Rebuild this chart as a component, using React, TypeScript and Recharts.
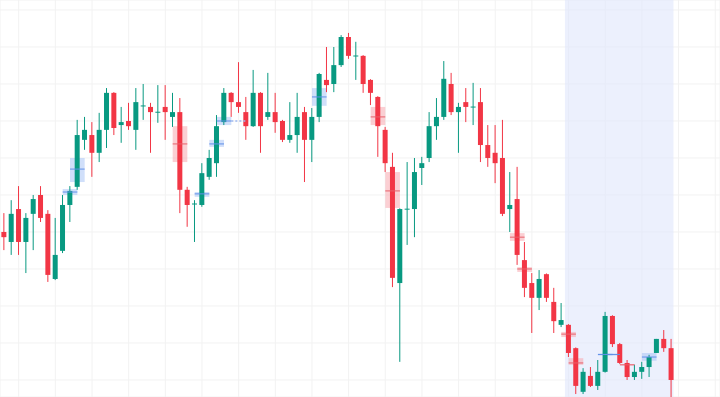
import { ComposedChart, Bar, XAxis, YAxis, CartesianGrid, ReferenceArea, ReferenceLine } from 'recharts'

const opens = [
  140.0, 137.3, 146.2, 137.3, 144.9, 150.0, 144.9, 127.3, 134.9, 147.3,
  152.2, 164.9, 166.2, 161.4, 167.6, 177.6, 168.9, 170.0, 167.6, 174.1,
  173.8, 172.4, 173.8, 171.1, 172.4, 151.4, 147.6, 147.3, 154.9, 158.6,
  169.7, 177.6, 175.1, 172.4, 168.6, 177.6, 171.1, 172.4, 170.0, 164.9,
  166.2, 172.4, 164.9, 171.1, 181.1, 180.0, 185.1, 192.7, 187.6, 187.6,
  181.1, 176.5, 167.6, 157.6, 126.2, 146.2, 146.2, 157.3, 160.0, 168.6,
  171.1, 180.0, 172.4, 175.1, 173.8, 175.1, 163.5, 161.4, 160.0, 146.2,
  148.9, 132.4, 126.2, 122.2, 128.6, 121.1, 114.9, 114.9, 108.6, 96.8,
  101.1, 98.4, 102.2, 117.3, 109.7, 104.6, 100.8, 102.2, 103.5, 107.3,
  111.1, 108.6,
]
const highs = [
  145.1, 148.6, 152.4, 145.1, 150.0, 152.4, 145.9, 143.8, 150.0, 152.4,
  170.3, 171.1, 169.7, 172.2, 178.9, 177.8, 173.8, 174.9, 178.9, 180.0,
  174.9, 179.7, 179.7, 177.6, 176.2, 152.2, 148.6, 158.6, 162.2, 171.6,
  178.9, 177.8, 185.9, 176.5, 183.8, 177.8, 183.0, 177.6, 170.3, 175.1,
  177.6, 173.8, 173.5, 183.0, 190.0, 190.0, 193.2, 193.8, 191.4, 187.8,
  181.3, 176.7, 168.4, 161.4, 146.4, 158.9, 160.0, 160.3, 172.4, 176.2,
  186.2, 183.0, 174.9, 178.9, 180.3, 178.9, 168.9, 168.9, 170.3, 156.2,
  157.6, 137.3, 128.9, 129.7, 128.8, 124.9, 120.8, 115.1, 108.8, 103.2,
  103.5, 105.4, 118.4, 117.5, 110.0, 105.4, 104.1, 104.9, 106.8, 111.1,
  113.5, 111.1,
]
const lows = [
  135.1, 133.8, 133.8, 128.9, 135.1, 142.7, 126.5, 127.0, 134.3, 142.7,
  151.4, 162.2, 154.9, 158.9, 162.7, 166.2, 164.1, 167.6, 162.2, 170.3,
  161.4, 169.5, 164.9, 168.4, 145.1, 141.4, 137.3, 146.8, 154.1, 154.9,
  168.9, 171.1, 172.2, 164.9, 168.4, 161.4, 170.3, 166.8, 164.3, 164.1,
  161.4, 153.5, 158.9, 169.7, 177.8, 177.8, 184.6, 186.8, 181.1, 177.6,
  174.3, 160.3, 156.2, 125.1, 104.9, 136.5, 138.6, 152.7, 158.9, 164.9,
  170.3, 171.6, 161.4, 169.7, 168.9, 158.9, 157.6, 153.2, 144.3, 140.0,
  131.1, 122.4, 112.7, 118.9, 121.1, 112.7, 114.3, 106.2, 96.2, 96.2,
  98.1, 97.3, 102.0, 108.9, 104.3, 100.0, 100.0, 100.3, 100.8, 107.3,
  107.6, 94.0,
]
const closes = [
  138.6, 144.9, 137.3, 143.8, 148.9, 143.8, 128.4, 133.8, 147.3, 151.1,
  166.2, 167.6, 161.4, 167.6, 177.6, 168.1, 169.7, 168.6, 175.1, 174.2,
  172.4, 172.5, 172.4, 172.4, 151.4, 147.3, 147.7, 155.9, 160.0, 168.6,
  177.6, 175.1, 173.8, 168.6, 177.6, 168.6, 172.4, 169.7, 164.9, 166.2,
  171.1, 164.9, 171.1, 182.7, 179.7, 185.1, 192.7, 187.6, 187.7, 180.0,
  177.6, 168.6, 158.6, 127.6, 146.2, 146.3, 156.2, 158.6, 168.6, 171.1,
  181.4, 172.4, 173.8, 173.8, 173.9, 163.5, 160.0, 158.6, 144.9, 147.3,
  133.8, 124.9, 122.2, 127.3, 122.2, 115.9, 116.2, 107.3, 98.4, 102.2,
  98.4, 102.2, 117.3, 109.7, 104.6, 100.8, 102.2, 103.5, 106.2, 111.1,
  108.6, 100.0,
]

// highlighted boxes: candle index, low/high of box, center line, kind
const markIdx = [9, 10, 24, 27, 29, 30, 43, 51, 53, 70, 71, 77, 78, 82, 83, 85, 88]
const markLow = [150.0, 153.5, 158.9, 149.5, 163.0, 168.9, 174.1, 168.9, 146.5, 137.6, 129.2, 111.6, 104.1, 106.6, 106.6, 103.9, 105.2]
const markHigh = [151.6, 160.0, 168.6, 150.8, 164.9, 171.1, 178.9, 173.8, 156.2, 139.7, 130.5, 113.0, 105.9, 107.1, 107.1, 104.3, 107.3]
const markMid = [150.8, 157.0, 163.8, 150.3, 163.8, 170.0, 176.5, 171.1, 151.1, 138.6, 130.0, 112.4, 104.6, 106.9, 106.9, 104.1, 106.2]
const markUp = [true, true, false, true, true, true, true, false, false, false, false, false, false, true, true, false, true]

// dotted level carried on from the box at index 30
const levelFrom = 31
const levelTo = 33
const levelPrice = 170.0

const shadeFrom = 76.5
const shadeTo = 91.3
const xTicks = [2, 7, 12, 17, 22, 27, 32, 37, 42, 47, 52, 57, 62, 67, 72, 77, 82, 87, 92, 97]
const yTicks = [100, 110, 120, 130, 140, 150, 160, 170, 180, 190, 200]

const UP = '#089981'
const DOWN = '#f23645'

const data = opens.map((o, i) => ({
  i,
  open: o,
  high: highs[i],
  low: lows[i],
  close: closes[i],
  range: [lows[i], highs[i]],
}))

function Candle(props: any) {
  const { x, y, width, height, payload } = props
  if (!payload) return null
  const { open, close, high, low } = payload
  const color = close >= open ? UP : DOWN
  const ratio = height / (high - low)
  const yOpen = y + (high - open) * ratio
  const yClose = y + (high - close) * ratio
  const top = Math.min(yOpen, yClose)
  const bodyH = Math.max(Math.abs(yOpen - yClose), 1)
  const cx = x + width / 2
  return (
    <g>
      <line x1={cx} x2={cx} y1={y} y2={y + height} stroke={color} strokeWidth={1} />
      <rect x={x} y={top} width={width} height={bodyH} fill={color} />
    </g>
  )
}

export default function App() {
  return (
    <div style={{ position: 'absolute', left: 0, top: 0, width: 720, height: 397, background: '#fff' }}>
      <ComposedChart width={720} height={397} data={data} margin={{ top: 0, right: 0, bottom: 0, left: 0 }}>
        <CartesianGrid stroke="#f2f2f2" />
        <XAxis type="number" dataKey="i" domain={[-0.55, 97.65]} ticks={xTicks} hide allowDataOverflow />
        <YAxis type="number" domain={[95.4, 202.7]} ticks={yTicks} hide allowDataOverflow />
        <ReferenceArea x1={shadeFrom} x2={shadeTo} y1={95.4} y2={202.7} fill="#dfe6fb" fillOpacity={0.6} stroke="none" ifOverflow="hidden" />
        {markIdx.map((m, k) => (
          <ReferenceArea
            key={'a' + k}
            x1={m - 1}
            x2={m + 1}
            y1={markLow[k]}
            y2={markHigh[k]}
            fill={markUp[k] ? '#aac4f5' : '#f7a8ae'}
            fillOpacity={0.55}
            stroke="none"
          />
        ))}
        <ReferenceLine
          segment={[
            { x: levelFrom, y: levelPrice },
            { x: levelTo, y: levelPrice },
          ]}
          stroke="#9db8f0"
          strokeDasharray="2 2"
          strokeWidth={1.5}
        />
        <Bar dataKey="range" barSize={5} shape={<Candle />} isAnimationActive={false} />
        {markIdx.map((m, k) => (
          <ReferenceLine
            key={'l' + k}
            segment={[
              { x: m - 1, y: markMid[k] },
              { x: m + 1, y: markMid[k] },
            ]}
            stroke={markUp[k] ? '#5f8fe8' : '#e8606b'}
            strokeWidth={1}
          />
        ))}
      </ComposedChart>
    </div>
  )
}
